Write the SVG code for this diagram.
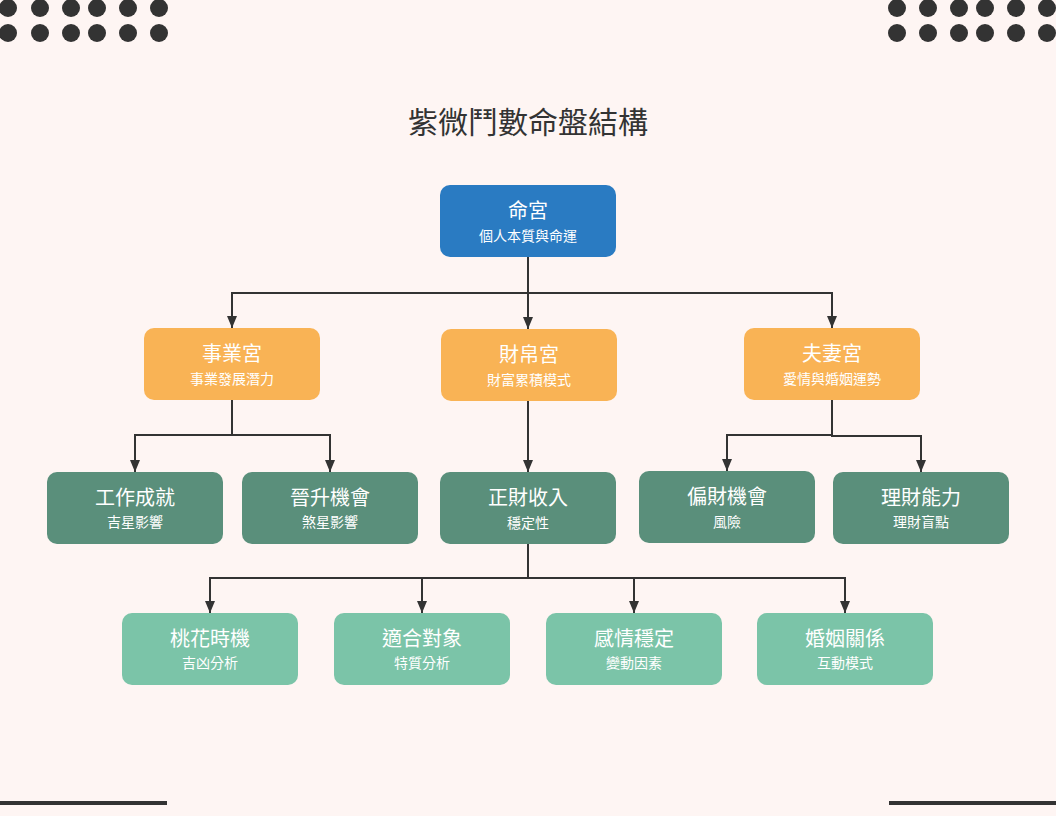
<svg xmlns="http://www.w3.org/2000/svg" width="1056" height="816" viewBox="0 0 1056 816">
<defs>
<marker id="arr" viewBox="0 0 12 10" refX="12" refY="5" markerWidth="12" markerHeight="10" markerUnits="userSpaceOnUse" orient="auto">
<path d="M0,0 L12,5 L0,10 Z" fill="#333"/>
</marker>
<style>
.dot{fill:#333}
.edge{fill:none;stroke:#333;stroke-width:2}
.n rect{rx:10;ry:10}
.t1{font-family:"Noto Sans CJK TC","Noto Sans CJK SC",sans-serif;font-size:20px;fill:#fff;text-anchor:middle}
.t2{font-family:"Noto Sans CJK TC","Noto Sans CJK SC",sans-serif;font-size:14px;fill:#fff;text-anchor:middle}
.title{font-family:"Noto Sans CJK TC","Noto Sans CJK SC",sans-serif;font-size:30px;fill:#333;text-anchor:middle}
.blue{fill:#2a7bc2}
.orange{fill:#f9b355}
.dg{fill:#5a8f7b}
.lg{fill:#7bc4a8}
</style>
</defs>
<rect width="1056" height="816" fill="#fef5f3"/>
<g id="decor">
<circle class="dot" cx="8" cy="8" r="9"/><circle class="dot" cx="40" cy="8" r="9"/><circle class="dot" cx="71" cy="8" r="9"/><circle class="dot" cx="97" cy="8" r="9"/><circle class="dot" cx="128" cy="8" r="9"/><circle class="dot" cx="159" cy="8" r="9"/>
<circle class="dot" cx="8" cy="33" r="9"/><circle class="dot" cx="40" cy="33" r="9"/><circle class="dot" cx="71" cy="33" r="9"/><circle class="dot" cx="97" cy="33" r="9"/><circle class="dot" cx="128" cy="33" r="9"/><circle class="dot" cx="159" cy="33" r="9"/>
<circle class="dot" cx="897" cy="8" r="9"/><circle class="dot" cx="928" cy="8" r="9"/><circle class="dot" cx="959" cy="8" r="9"/><circle class="dot" cx="985" cy="8" r="9"/><circle class="dot" cx="1016" cy="8" r="9"/><circle class="dot" cx="1047" cy="8" r="9"/>
<circle class="dot" cx="897" cy="33" r="9"/><circle class="dot" cx="928" cy="33" r="9"/><circle class="dot" cx="959" cy="33" r="9"/><circle class="dot" cx="985" cy="33" r="9"/><circle class="dot" cx="1016" cy="33" r="9"/><circle class="dot" cx="1047" cy="33" r="9"/>
<rect x="0" y="801" width="167" height="4" fill="#333"/>
<rect x="889" y="801" width="167" height="4" fill="#333"/>
</g>
<text class="title" x="528" y="133">紫微鬥數命盤結構</text>
<g id="connectors">
<path class="edge" d="M528,257 V293 H232 V328" marker-end="url(#arr)"/>
<path class="edge" d="M528,257 V329" marker-end="url(#arr)"/>
<path class="edge" d="M528,257 V293 H832 V328" marker-end="url(#arr)"/>
<path class="edge" d="M232,400 V435 H135 V472" marker-end="url(#arr)"/>
<path class="edge" d="M232,400 V435 H330 V472" marker-end="url(#arr)"/>
<path class="edge" d="M528,401 V472" marker-end="url(#arr)"/>
<path class="edge" d="M832,400 V435 H727 V471" marker-end="url(#arr)"/>
<path class="edge" d="M832,400 V436 H921 V472" marker-end="url(#arr)"/>
<path class="edge" d="M528,544 V578 H210 V613" marker-end="url(#arr)"/>
<path class="edge" d="M528,544 V578 H422 V613" marker-end="url(#arr)"/>
<path class="edge" d="M528,544 V578 H634 V613" marker-end="url(#arr)"/>
<path class="edge" d="M528,544 V578 H845 V613" marker-end="url(#arr)"/>
</g>
<g id="n-ming" class="n"><rect class="blue" x="440" y="185" width="176" height="72"/><text class="t1" x="528" y="218">命宮</text><text class="t2" x="528" y="241">個人本質與命運</text></g>
<g id="n-shiye" class="n"><rect class="orange" x="144" y="328" width="176" height="72"/><text class="t1" x="232" y="361">事業宮</text><text class="t2" x="232" y="384">事業發展潛力</text></g>
<g id="n-caibo" class="n"><rect class="orange" x="441" y="329" width="176" height="72"/><text class="t1" x="529" y="362">財帛宮</text><text class="t2" x="529" y="385">財富累積模式</text></g>
<g id="n-fuqi" class="n"><rect class="orange" x="744" y="328" width="176" height="72"/><text class="t1" x="832" y="361">夫妻宮</text><text class="t2" x="832" y="384">愛情與婚姻運勢</text></g>
<g id="n-gongzuo" class="n"><rect class="dg" x="47" y="472" width="176" height="72"/><text class="t1" x="135" y="505">工作成就</text><text class="t2" x="135" y="527">吉星影響</text></g>
<g id="n-jinsheng" class="n"><rect class="dg" x="242" y="472" width="176" height="72"/><text class="t1" x="330" y="505">晉升機會</text><text class="t2" x="330" y="527">煞星影響</text></g>
<g id="n-zhengcai" class="n"><rect class="dg" x="440" y="472" width="176" height="72"/><text class="t1" x="528" y="505">正財收入</text><text class="t2" x="528" y="528">穩定性</text></g>
<g id="n-piancai" class="n"><rect class="dg" x="639" y="471" width="176" height="72"/><text class="t1" x="727" y="504">偏財機會</text><text class="t2" x="727" y="527">風險</text></g>
<g id="n-licai" class="n"><rect class="dg" x="833" y="472" width="176" height="72"/><text class="t1" x="921" y="505">理財能力</text><text class="t2" x="921" y="527">理財盲點</text></g>
<g id="n-taohua" class="n"><rect class="lg" x="122" y="613" width="176" height="72"/><text class="t1" x="210" y="646">桃花時機</text><text class="t2" x="210" y="668">吉凶分析</text></g>
<g id="n-shihe" class="n"><rect class="lg" x="334" y="613" width="176" height="72"/><text class="t1" x="422" y="646">適合對象</text><text class="t2" x="422" y="668">特質分析</text></g>
<g id="n-ganqing" class="n"><rect class="lg" x="546" y="613" width="176" height="72"/><text class="t1" x="634" y="646">感情穩定</text><text class="t2" x="634" y="668">變動因素</text></g>
<g id="n-hunyin" class="n"><rect class="lg" x="757" y="613" width="176" height="72"/><text class="t1" x="845" y="646">婚姻關係</text><text class="t2" x="845" y="668">互動模式</text></g>
</svg>
